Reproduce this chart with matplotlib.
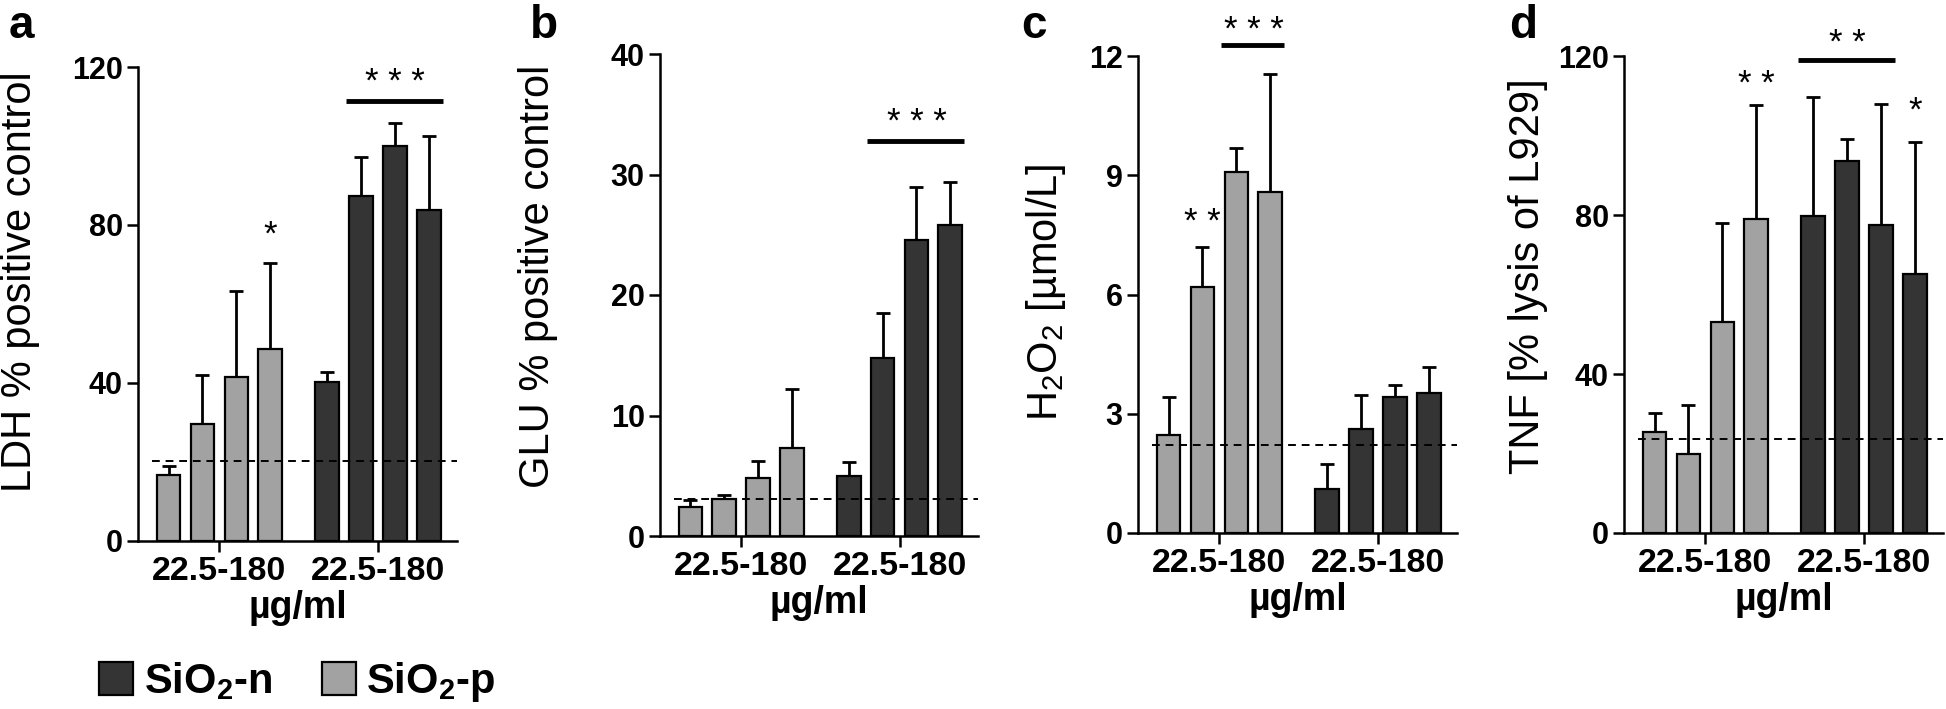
import matplotlib
matplotlib.use("Agg")
import matplotlib.pyplot as plt
from matplotlib.patches import Patch
import numpy as np

plt.rcParams['font.family'] = ['Liberation Sans', 'DejaVu Sans']
plt.rcParams['mathtext.default'] = 'regular'

W, H = 1946, 709

# data: 4 doses of SiO2-p (grey) then 4 doses of SiO2-n (dark)
ldh_p = [16.6, 29.6, 41.6, 48.5]
ldh_p_err = [18.9, 41.9, 63.4, 70.5]
ldh_n = [40.3, 87.4, 100.1, 83.8]
ldh_n_err = [42.9, 97.3, 105.9, 102.6]

glu_p = [2.4, 3.07, 4.85, 7.3]
glu_p_err = [2.96, 3.4, 6.2, 12.2]
glu_n = [5.0, 14.75, 24.6, 25.8]
glu_n_err = [6.1, 18.5, 29.0, 29.4]

h2o2_p = [2.47, 6.18, 9.07, 8.59]
h2o2_p_err = [3.42, 7.19, 9.68, 11.54]
h2o2_n = [1.1, 2.62, 3.43, 3.51]
h2o2_n_err = [1.74, 3.46, 3.72, 4.18]

tnf_p = [25.3, 20.0, 53.2, 78.9]
tnf_p_err = [30.1, 32.1, 77.9, 107.6]
tnf_n = [79.7, 93.5, 77.4, 65.1]
tnf_n_err = [109.6, 99.1, 107.9, 98.3]

controls = [20.2, 3.03, 2.22, 23.7]
ylabels = ['LDH % positive control', 'GLU % positive control',
           'H$_2$O$_2$ [µmol/L]', 'TNF [% lysis of L929]']
yticks = [[0, 40, 80, 120], [0, 10, 20, 30, 40], [0, 3, 6, 9, 12], [0, 40, 80, 120]]
group_labels = ['22.5-180', '22.5-180']
panel_letters = ['a', 'b', 'c', 'd']

# significance: (text, first bar, last bar, line height or None, text height)
stars_a = [('*', 3, 3, None, 77.5), ('* * *', 5, 7, 111.4, 116.0)]
stars_b = [('* * *', 5, 7, 32.8, 34.3)]
stars_c = [('* *', 1, 1, None, 7.8), ('* * *', 2, 3, 12.28, 12.63)]
stars_d = [('* *', 3, 3, None, 112.9), ('* *', 4, 6, 119.1, 123.2), ('*', 7, 7, None, 106.1)]

panels = [(ldh_p, ldh_p_err, ldh_n, ldh_n_err, stars_a),
          (glu_p, glu_p_err, glu_n, glu_n_err, stars_b),
          (h2o2_p, h2o2_p_err, h2o2_n, h2o2_n_err, stars_c),
          (tnf_p, tnf_p_err, tnf_n, tnf_n_err, stars_d)]

# axes boxes in pixels: left, right, top, bottom
boxes = [(138, 457, 67, 541), (660, 978, 54, 536), (1138, 1457, 56, 533), (1624, 1943, 56, 533)]
ylabel_xy = [(20, 282), (538, 276), (1046, 292), (1528, 276)]
letter_x = [9, 530, 1021, 1509]

dark = '#343434'
light = '#a2a2a2'
xpos = np.array([0, 1, 2, 3, 4.68, 5.68, 6.68, 7.68])
bw = 0.7

fig = plt.figure(figsize=(W / 100, H / 100), dpi=100)

for i, (pv, pe, nv, ne, stars) in enumerate(panels):
    l, r, t, b = boxes[i]
    ax = fig.add_axes([l / W, 1 - b / H, (r - l) / W, (b - t) / H])
    vals = np.array(pv + nv)
    tops = np.array(pe + ne)
    cols = [light] * 4 + [dark] * 4
    ax.errorbar(xpos, vals, yerr=[np.zeros(8), tops - vals], fmt='none',
                ecolor='black', elinewidth=2, capsize=5, capthick=2, zorder=1)
    ax.bar(xpos, vals, width=bw, color=cols, edgecolor='black', linewidth=1.6, zorder=2)
    ax.hlines(controls[i], -0.5, 8.5, colors='black', linestyles=(0, (4, 3)), linewidth=1.4, zorder=3)
    top = yticks[i][-1]
    ax.set_ylim(0, top)
    ax.set_xlim(-0.9, 8.5)
    ax.set_yticks(yticks[i])
    ax.set_yticklabels([str(v) for v in yticks[i]], fontsize=22, fontweight='bold')
    ax.set_xticks([1.5, 6.18])
    ax.set_xticklabels(group_labels, fontsize=24.5, fontweight='bold')
    ax.tick_params(axis='both', length=8, width=1.8, pad=3)
    for s in ['top', 'right']:
        ax.spines[s].set_visible(False)
    for s in ['left', 'bottom']:
        ax.spines[s].set_linewidth(1.8)
    ax.set_xlabel('µg/ml', fontsize=27, fontweight='bold', labelpad=2)
    for txt, i0, i1, yline, ytxt in stars:
        if yline is not None:
            ax.plot([xpos[i0] - 0.45, xpos[i1] + 0.4], [yline, yline], color='black',
                    linewidth=3.5, clip_on=False, solid_capstyle='butt')
        xc = (xpos[i0] + xpos[i1]) / 2
        ax.text(xc, ytxt, txt, ha='center', va='center', fontsize=25, clip_on=False)
    lx, ly = ylabel_xy[i]
    fig.text(lx / W, 1 - ly / H, ylabels[i], rotation=90,
             ha='center', va='center', fontsize=30)
    fig.text(letter_x[i] / W, 1 - 4 / H, panel_letters[i], ha='left', va='top',
             fontsize=33, fontweight='bold')

handles = [Patch(facecolor=dark, edgecolor='black', linewidth=1.6),
           Patch(facecolor=light, edgecolor='black', linewidth=1.6)]
fig.legend(handles, ['SiO$_2$-n', 'SiO$_2$-p'], loc='center left',
           bbox_to_anchor=(99 / W, 1 - 682 / H), ncol=2, frameon=False,
           prop={'size': 30, 'weight': 'bold'}, handlelength=0.82, handleheight=0.82,
           handletextpad=0.25, columnspacing=1.2, borderpad=0, borderaxespad=0)

fig.savefig('out.png', dpi=100)
